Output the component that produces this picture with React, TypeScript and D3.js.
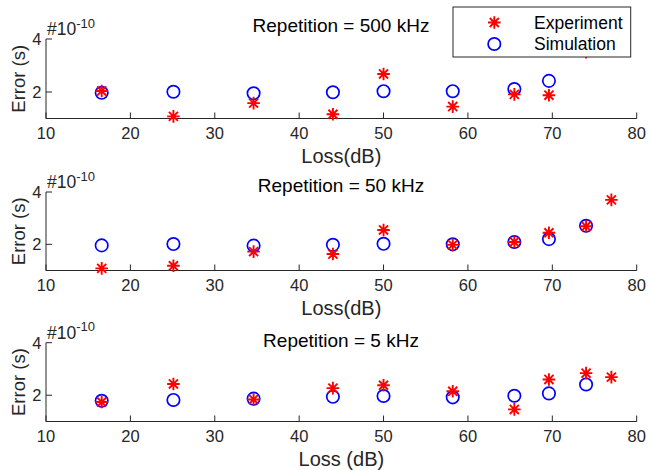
import React from "react"
import * as d3 from "d3"

// loss values (dB) shared by every panel
const lossDb = [16.6, 25.1, 34.6, 44, 50, 58.2, 65.5, 69.6, 74, 77]

// error values in units of 1e-10 s
const exp500 = [2.04, 1.08, 1.58, 1.16, 2.68, 1.45, 1.91, 1.88, 3.5]
const sim500 = [1.97, 2.01, 1.95, 1.99, 2.03, 2.03, 2.11, 2.42]
const exp50 = [1.08, 1.18, 1.72, 1.63, 2.55, 1.98, 2.09, 2.44, 2.69, 3.7]
const sim50 = [1.96, 2.01, 1.95, 1.98, 2.02, 2.0, 2.09, 2.2, 2.71]
const exp5 = [1.74, 2.43, 1.84, 2.27, 2.38, 2.15, 1.46, 2.6, 2.84, 2.69]
const sim5 = [1.79, 1.82, 1.87, 1.94, 1.97, 1.92, 1.98, 2.07, 2.41]

const titles = ["Repetition = 500 kHz", "Repetition = 50 kHz", "Repetition = 5 kHz"]
const xLabels = ["Loss(dB)", "Loss(dB)", "Loss (dB)"]
const xTicks = [10, 20, 30, 40, 50, 60, 70, 80]
const yTicks = [2, 4]
const legendLabels = ["Experiment", "Simulation"]

const W = 649
const H = 470
const axisColor = "#262626"
const font = "'Liberation Sans', Arial, sans-serif"

// layout per panel: axis top / bottom and title baseline
const panels = [
  { top: 39, bottom: 118.5, titleY: 31.7, exp: exp500, sim: sim500 },
  { top: 192, bottom: 270.5, titleY: 191.5, exp: exp50, sim: sim50 },
  { top: 342.7, bottom: 421.5, titleY: 346.5, exp: exp5, sim: sim5 },
]

const x = d3.scaleLinear().domain([10, 80]).range([46, 636.7])

const starPath = (cx: number, cy: number, r: number) => {
  const d = r * 0.72
  return (
    `M${cx - r},${cy}L${cx + r},${cy}M${cx},${cy - r}L${cx},${cy + r}` +
    `M${cx - d},${cy - d}L${cx + d},${cy + d}M${cx - d},${cy + d}L${cx + d},${cy - d}`
  )
}

const Panel = ({ p, i }: { p: any; i: number }) => {
  const y = d3.scaleLinear().domain([1, 4]).range([p.bottom, p.top])
  const x0 = x.range()[0]
  const x1 = x.range()[1]
  return (
    <g>
      {/* axes */}
      <line x1={x0} x2={x1} y1={p.bottom} y2={p.bottom} stroke={axisColor} strokeWidth={1} />
      <line x1={x0} x2={x0} y1={p.top} y2={p.bottom} stroke={axisColor} strokeWidth={1} />
      {xTicks.map(t => (
        <g key={"xt" + t}>
          <line x1={x(t)} x2={x(t)} y1={p.bottom} y2={p.bottom - 6} stroke={axisColor} />
          <text x={x(t)} y={p.bottom + 20} textAnchor="middle" fontSize={16.5} fill={axisColor}>
            {t}
          </text>
        </g>
      ))}
      {yTicks.map(t => (
        <g key={"yt" + t}>
          <line x1={x0} x2={x0 + 6} y1={y(t)} y2={y(t)} stroke={axisColor} />
          <text x={41.5} y={y(t) + 6} textAnchor="end" fontSize={16.5} fill={axisColor}>
            {t}
          </text>
        </g>
      ))}
      <text x={47} y={p.top - 4} fontSize={17.5} fill={axisColor}>
        #10
        <tspan fontSize={13} dy={-7.5}>-10</tspan>
      </text>
      <text
        transform={`translate(25,${(p.top + p.bottom) / 2}) rotate(-90)`}
        textAnchor="middle"
        fontSize={18.5}
        fill={axisColor}
      >
        Error (s)
      </text>
      <text x={(x0 + x1) / 2} y={p.bottom + 44.5} textAnchor="middle" fontSize={20} fill={axisColor}>
        {xLabels[i]}
      </text>
      <text x={341} y={p.titleY} textAnchor="middle" fontSize={19} fill="#000">
        {titles[i]}
      </text>
      {/* simulation circles */}
      {p.sim.map((v: number, k: number) => (
        <circle key={"s" + k} cx={x(lossDb[k])} cy={y(v)} r={6.2} fill="none" stroke="#0000ff" strokeWidth={1.7} />
      ))}
      {/* experiment stars */}
      {p.exp.map((v: number, k: number) => (
        <path key={"e" + k} d={starPath(x(lossDb[k]), y(v), 6.3)} stroke="#ff0000" strokeWidth={1.9} fill="none" />
      ))}
    </g>
  )
}

const Legend = () => (
  <g>
    <rect x={453} y={7} width={177.7} height={50} fill="#fff" stroke={axisColor} strokeWidth={1} />
    <path d={starPath(494.3, 22.5, 6.3)} stroke="#ff0000" strokeWidth={1.9} fill="none" />
    <circle cx={494.3} cy={44} r={6.2} fill="none" stroke="#0000ff" strokeWidth={1.7} />
    {legendLabels.map((l, k) => (
      <text key={l} x={534} y={[28.5, 50][k]} fontSize={17.5} fill="#000">
        {l}
      </text>
    ))}
  </g>
)

export default function App() {
  return (
    <svg
      width={W}
      height={H}
      style={{ position: "absolute", left: 0, top: 0, background: "#fff", fontFamily: font }}
    >
      {panels.map((p, i) => (
        <Panel key={i} p={p} i={i} />
      ))}
      <Legend />
    </svg>
  )
}
